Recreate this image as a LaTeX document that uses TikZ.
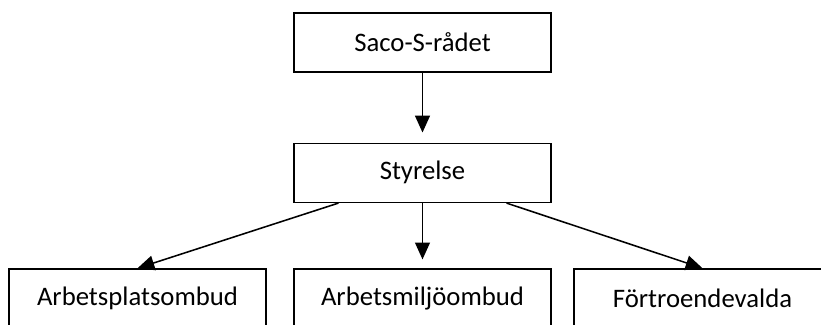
\documentclass[tikz,border=0pt]{standalone}
\usepackage{fontspec}
\setmainfont{Carlito}
\usetikzlibrary{positioning, arrows.meta}
\begin{document}
\begin{tikzpicture}[auto]

	\tikzstyle{organ}=[rectangle, draw, line width=1.1pt, minimum width=6.425cm, minimum height=1.475cm, inner sep=0pt, font=\fontsize{19}{23}\selectfont]
	\tikzstyle{arc}=[-{Triangle[width=0.37cm,length=0.42cm]}, line width=1.1pt, black]

	\useasboundingbox (0,0) rectangle (20.525,8.1);

	% placement des organes
	\node[organ] (saco) at (10.5625,7.04) {Saco-S-rådet};
	\node[organ] (styr) at (10.5625,3.78) {Styrelse};
	\node[organ] (aps) at (3.4375,0.6375) {Arbetsplatsombud};
	\node[organ] (amo) at (10.5625,0.6375) {Arbetsmiljöombud};
	\node[organ] (ftv) at (17.5625,0.6375) {Förtroendevalda};

	\draw[arc, shorten >=0.25cm] (saco) -- (styr);
	\draw[arc] ([xshift=-2.1cm]styr.south) -- (aps.north);
	\draw[arc, shorten >=0.22cm] (styr) -- (amo);
	\draw[arc] ([xshift=2.1cm]styr.south) -- (ftv.north);

\end{tikzpicture}
\end{document}
